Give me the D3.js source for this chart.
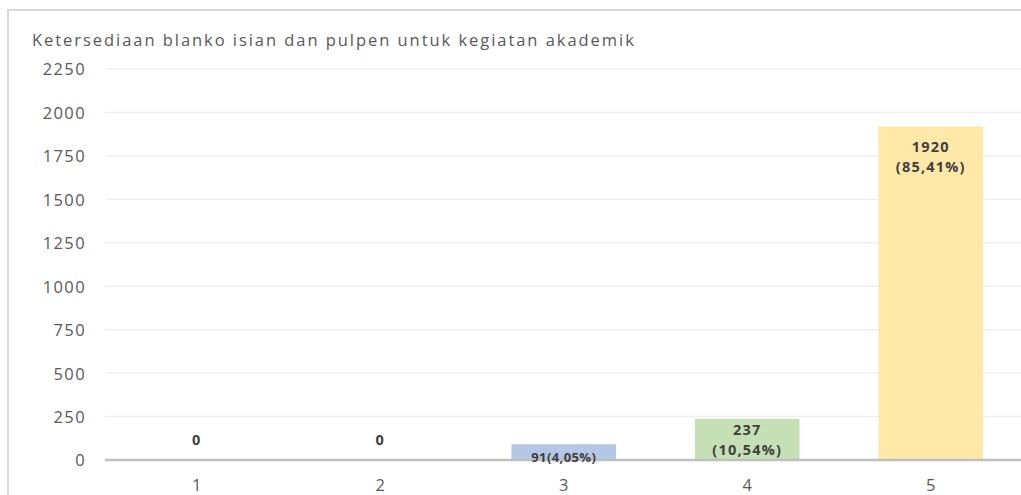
<!DOCTYPE html>
<html><head><meta charset="utf-8">
<script src="https://cdn.jsdelivr.net/npm/d3@7"></script>
<style>
html,body{margin:0;padding:0;background:#fff;}
svg{display:block;}
text{font-family:"Open Sans",sans-serif;}
</style></head>
<body><svg id="c" width="1021" height="495"></svg>
<script>
const title = "Ketersediaan blanko isian dan pulpen untuk kegiatan akademik";
const categories = ["1","2","3","4","5"];
const values = [0,0,91,237,1920];
const labelLines = [["0"],["0"],["91(4,05%)"],["237","(10,54%)"],["1920","(85,41%)"]];
const barColors = ["#b4c7e7","#b4c7e7","#b4c7e7","#c5e0b4","#ffe8a8"];
const yTicks = [0,250,500,750,1000,1250,1500,1750,2000,2250];

const svg = d3.select("#c");
// frame
svg.append("path").attr("d","M8,495 V10 H1021").attr("fill","none").attr("stroke","#d9d9d9").attr("stroke-width",2);

svg.append("text").attr("x",32).attr("y",46).attr("fill","#595959")
  .attr("font-size",16.5).attr("letter-spacing","1.95px").text(title);

const x = d3.scaleBand().domain(categories).range([105,1022.5]).paddingInner(0.43).paddingOuter(0.215);
const y = d3.scaleLinear().domain([0,2250]).range([460,69]);

// gridlines
svg.append("g").selectAll("line").data(yTicks.slice(1)).join("line")
  .attr("x1",105).attr("x2",1021).attr("y1",d=>y(d)).attr("y2",d=>y(d))
  .attr("stroke","#f0f0f0").attr("stroke-width",1.5);

// y axis labels
const ya = svg.append("g").attr("transform","translate(86,0)")
  .call(d3.axisLeft(y).tickValues(yTicks).tickFormat(d3.format("d")).tickSize(0).tickPadding(0));
ya.select(".domain").remove();
ya.selectAll("text").attr("font-size",16.5).attr("fill","#595959").attr("font-family","Open Sans, sans-serif").attr("letter-spacing","1.4px").attr("dy","0.36em");

// bars
svg.append("g").selectAll("rect").data(values).join("rect")
  .attr("x",(d,i)=>x(categories[i])).attr("width",x.bandwidth())
  .attr("y",d=>y(d)).attr("height",d=>y(0)-y(d))
  .attr("fill",(d,i)=>barColors[i]);

// x axis
const xa = svg.append("g").attr("transform","translate(0,460)").call(d3.axisBottom(x).tickSize(0).tickPadding(19));
xa.select(".domain").attr("stroke","#bfbfbf").attr("stroke-width",2.5).attr("d","M105,0H1021");
xa.selectAll("text").attr("font-size",16.5).attr("fill","#595959").attr("font-family","Open Sans, sans-serif");

// data labels
const lg = svg.append("g").attr("font-weight","bold").attr("fill","#404040").attr("text-anchor","middle");
values.forEach((v,i)=>{
  const cx = x(categories[i]) + x.bandwidth()/2;
  const lines = labelLines[i];
  const h = y(0)-y(v);
  const lh = 20;
  let c0; // center of first line
  if (v===0) c0 = y(0)-20;
  else if (h < 30) c0 = y(0)-3;
  else if (h < 60) c0 = (y(v)+y(0))/2 - lh*(lines.length-1)/2;
  else c0 = y(v)+20;
  lines.forEach((t,j)=>{
    lg.append("text").attr("x",cx).attr("y",c0+j*lh).attr("dy","0.36em")
      .attr("font-size",i===2?13:14.5).attr("letter-spacing",i===2?"0.4px":"1.2px").text(t);
  });
});
</script></body></html>
